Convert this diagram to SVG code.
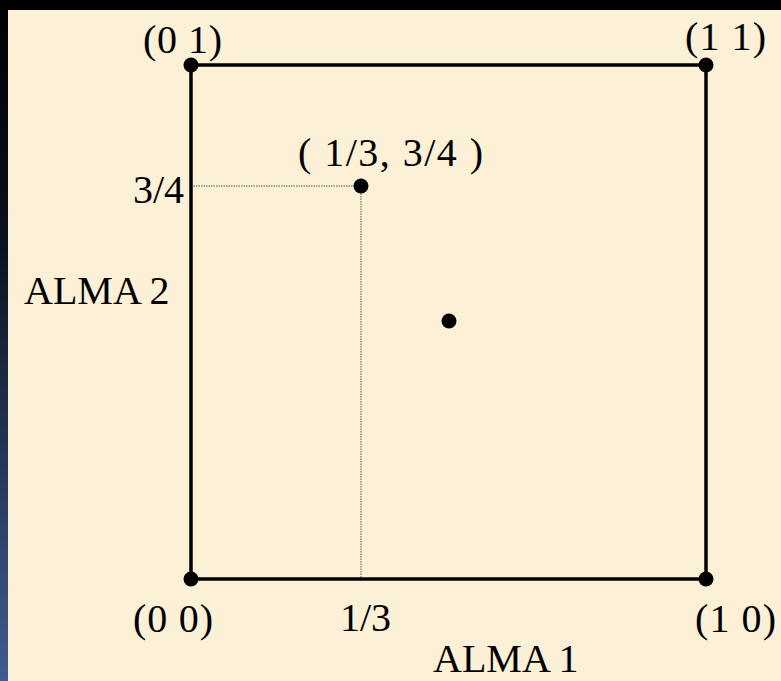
<svg xmlns="http://www.w3.org/2000/svg" width="781" height="681" viewBox="0 0 781 681">
  <defs>
    <linearGradient id="side" x1="0" y1="0" x2="0" y2="1">
      <stop offset="0" stop-color="#000000"/>
      <stop offset="0.35" stop-color="#0a1220"/>
      <stop offset="1" stop-color="#405d90"/>
    </linearGradient>
    <style>
      .lbl { font-family: "Liberation Serif", "Times New Roman", serif; font-size: 40px; fill: #000; }
      .edge { stroke: #000; stroke-width: 3.5; fill: none; stroke-linecap: square; }
      .guide { stroke: #555; stroke-width: 1; stroke-dasharray: 1.5 1; fill: none; }
      .dot { fill: #000; }
    </style>
  </defs>
  <rect x="0" y="0" width="781" height="681" fill="#000"/>
  <rect x="0" y="0" width="8" height="681" fill="url(#side)"/>
  <rect x="8" y="10" width="773" height="671" fill="#fcf0d6"/>

  <g id="connectors">
    <path class="guide" d="M191 186 H361"/>
    <path class="guide" d="M361 186 V579"/>
    <path class="edge" d="M191 65 H706 V579 H191 Z"/>
  </g>

  <g id="n01"><circle class="dot" cx="191" cy="65" r="7.5"/><text class="lbl" x="143" y="53" textLength="79" lengthAdjust="spacing">(0 1)</text></g>
  <g id="n11"><circle class="dot" cx="706" cy="65" r="7.5"/><text class="lbl" x="685" y="50" textLength="81" lengthAdjust="spacing">(1 1)</text></g>
  <g id="n00"><circle class="dot" cx="191" cy="579" r="7.5"/><text class="lbl" x="133" y="632" textLength="80" lengthAdjust="spacing">(0 0)</text></g>
  <g id="n10"><circle class="dot" cx="706" cy="579" r="7.5"/><text class="lbl" x="695" y="632" textLength="81" lengthAdjust="spacing">(1 0)</text></g>
  <g id="npt"><circle class="dot" cx="361" cy="186" r="7.5"/><text class="lbl" x="298" y="166" textLength="185" lengthAdjust="spacing">( 1/3, 3/4 )</text></g>
  <g id="ncenter"><circle class="dot" cx="449" cy="321" r="7.5"/></g>
  <g id="axis-y"><text class="lbl" x="133" y="203">3/4</text><text class="lbl" x="24" y="304">ALMA 2</text></g>
  <g id="axis-x"><text class="lbl" x="340" y="631">1/3</text><text class="lbl" x="433" y="672">ALMA 1</text></g>
</svg>
